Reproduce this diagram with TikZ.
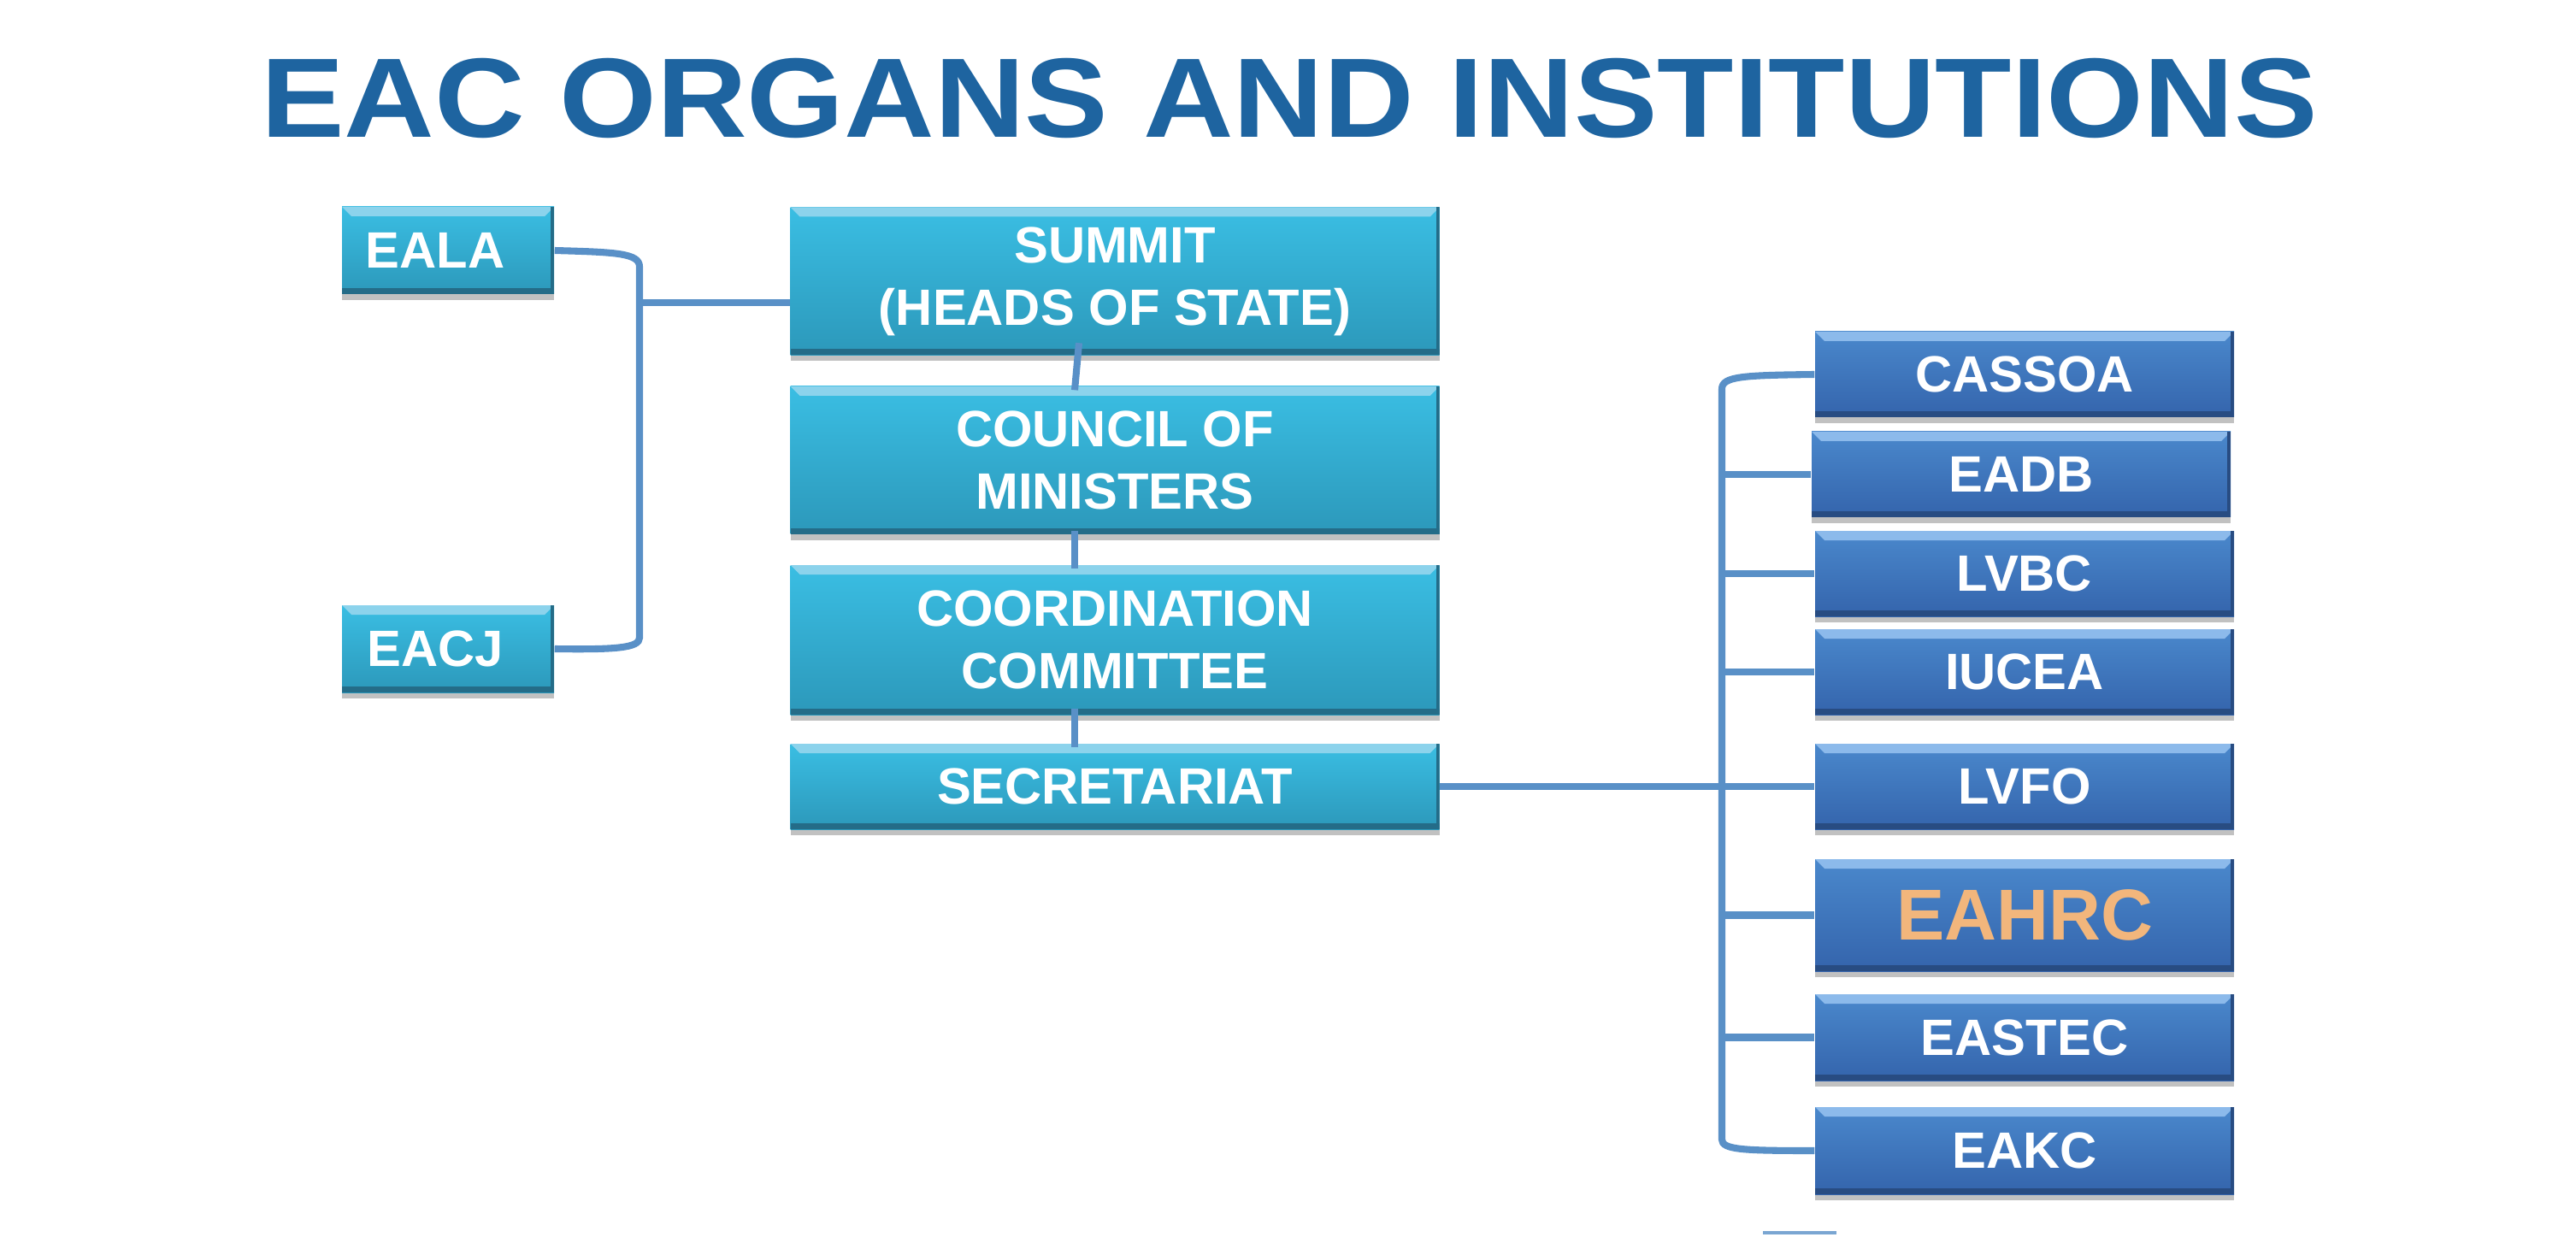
\documentclass[tikz,border=0pt]{standalone}
\usepackage{fontspec}
\setmainfont{Liberation Sans}
\usepackage{xcolor}
\usepackage{tikz}
\usetikzlibrary{shadows}

\definecolor{titleblue}{RGB}{30,100,160}
\definecolor{linkblue}{RGB}{89,144,199}
\definecolor{cyanTop}{RGB}{58,190,227}
\definecolor{cyanBot}{RGB}{44,152,186}
\definecolor{cyanHi}{RGB}{140,211,236}
\definecolor{cyanEdge}{RGB}{36,108,136}
\definecolor{blueTop}{RGB}{74,136,204}
\definecolor{blueBot}{RGB}{52,100,172}
\definecolor{blueHi}{RGB}{140,186,235}
\definecolor{blueEdge}{RGB}{40,76,130}
\definecolor{hrcorange}{RGB}{242,182,124}

\newcommand{\boxfont}{\bfseries\fontsize{17}{20.7}\selectfont}

\tikzset{
  orgbase/.style={inner sep=0pt, align=center, text=white, font=\boxfont,
    drop shadow={shadow xshift=0pt, shadow yshift=-0.07cm, opacity=0.35, fill=black!70}},
  cyanbox/.style={orgbase, top color=cyanTop, bottom color=cyanBot,
    path picture={
      \fill[cyanHi] (path picture bounding box.north west) -- (path picture bounding box.north east)
        -- ([shift={(-0.11,-0.11)}]path picture bounding box.north east)
        -- ([shift={(0.11,-0.11)}]path picture bounding box.north west) -- cycle;
      \fill[cyanEdge] (path picture bounding box.south west) rectangle ([yshift=0.07cm]path picture bounding box.south east);
      \fill[cyanEdge] ([xshift=-0.04cm]path picture bounding box.north east) rectangle (path picture bounding box.south east);
    }},
  bluebox/.style={orgbase, top color=blueTop, bottom color=blueBot,
    path picture={
      \fill[blueHi] (path picture bounding box.north west) -- (path picture bounding box.north east)
        -- ([shift={(-0.11,-0.11)}]path picture bounding box.north east)
        -- ([shift={(0.11,-0.11)}]path picture bounding box.north west) -- cycle;
      \fill[blueEdge] (path picture bounding box.south west) rectangle ([yshift=0.07cm]path picture bounding box.south east);
      \fill[blueEdge] ([xshift=-0.04cm]path picture bounding box.north east) rectangle (path picture bounding box.south east);
    }},
  link/.style={draw=linkblue, line width=2.3pt},
}

\begin{document}
\begin{tikzpicture}
  \useasboundingbox (0,0) rectangle (30.13,-14.61);

  \node[font=\bfseries\fontsize{37.6}{40}\selectfont, text=titleblue, xscale=1.107, anchor=base]
    (title) at (15.08,-1.61) {EAC ORGANS AND INSTITUTIONS};

  \node[cyanbox, minimum width=2.48cm, minimum height=1.02cm] (eala) at (5.24,-2.93) {EALA\hspace*{0.3cm}};
  \node[cyanbox, minimum width=2.48cm, minimum height=1.02cm] (eacj) at (5.24,-7.59) {EACJ\hspace*{0.3cm}};

  \node[cyanbox, minimum width=7.59cm, minimum height=1.73cm] (summit) at (13.04,-3.29) {SUMMIT\\(HEADS OF STATE)};
  \node[cyanbox, minimum width=7.59cm, minimum height=1.73cm] (council) at (13.04,-5.385) {COUNCIL OF\\MINISTERS};
  \node[cyanbox, minimum width=7.59cm, minimum height=1.75cm] (coord) at (13.04,-7.485) {COORDINATION\\COMMITTEE};
  \node[cyanbox, minimum width=7.59cm, minimum height=1.00cm] (secret) at (13.04,-9.20) {SECRETARIAT};

  \node[bluebox, minimum width=4.90cm, minimum height=1.00cm] (cassoa) at (23.68,-4.38) {CASSOA};
  \node[bluebox, minimum width=4.90cm, minimum height=1.00cm] (eadb) at (23.64,-5.55) {EADB};
  \node[bluebox, minimum width=4.90cm, minimum height=1.00cm] (lvbc) at (23.68,-6.71) {LVBC};
  \node[bluebox, minimum width=4.90cm, minimum height=1.00cm] (iucea) at (23.68,-7.86) {IUCEA};
  \node[bluebox, minimum width=4.90cm, minimum height=1.00cm] (lvfo) at (23.68,-9.20) {LVFO};
  \node[bluebox, minimum width=4.90cm, minimum height=1.31cm, text=hrcorange,
    font=\bfseries\fontsize{24}{28}\selectfont] (eahrc) at (23.68,-10.705) {EAHRC};
  \node[bluebox, minimum width=4.90cm, minimum height=1.01cm] (eastec) at (23.68,-12.135) {EASTEC};
  \node[bluebox, minimum width=4.90cm, minimum height=1.02cm] (eakc) at (23.68,-13.46) {EAKC};

  \coordinate (lj) at (7.48,-3.54);
  \coordinate (bar) at (20.14,0);

  \draw[link] (eala.east) .. controls (7.2,-2.95) and (7.48,-2.96) .. (7.48,-3.12)
    -- (7.48,-7.46) .. controls (7.48,-7.58) and (7.2,-7.6) .. (eacj.east);
  \draw[link] (lj) -- (lj -| summit.west);

  \draw[link] ([shift={(-0.42,0.15)}]summit.south) -- ([shift={(-0.47,-0.05)}]council.north);
  \draw[link] ([shift={(-0.47,0.05)}]council.south) -- ([shift={(-0.47,-0.05)}]coord.north);
  \draw[link] ([shift={(-0.47,0.08)}]coord.south) -- ([shift={(-0.47,-0.05)}]secret.north);

  \draw[link] (cassoa.west) .. controls (20.4,-4.39) and (20.14,-4.4) .. (20.14,-4.55)
    -- (20.14,-13.33) .. controls (20.14,-13.45) and (20.4,-13.46) .. (eakc.west);
  \foreach \n in {eadb,lvbc,iucea,lvfo,eahrc,eastec}
    \draw[link] (\n.west -| bar) -- (\n.west);
  \draw[link] (secret.east) -- (secret.east -| bar);

  \draw[linkblue!80, line width=1pt] (20.62,-14.42) -- (21.48,-14.42);
\end{tikzpicture}
\end{document}
